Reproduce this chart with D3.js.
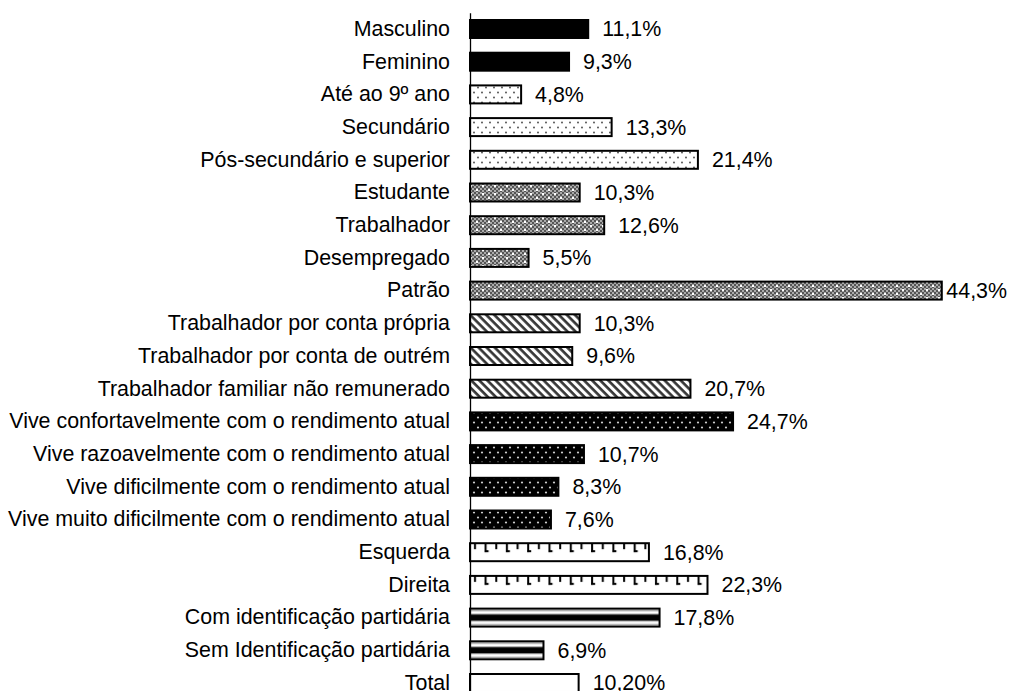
<!DOCTYPE html>
<meta charset="utf-8">
<style>
body { margin: 0; background: #fff; }
text { font-family: "Liberation Sans", Arial, sans-serif; font-size: 21.4px; fill: #000; }
</style>
<body>
<svg width="1011" height="691"></svg>
</body>
<script src="https://d3js.org/d3.v7.min.js"></script>
<script>

var categories = [
  "Masculino", "Feminino",
  "Até ao 9º ano", "Secundário", "Pós-secundário e superior",
  "Estudante", "Trabalhador", "Desempregado", "Patrão",
  "Trabalhador por conta própria", "Trabalhador por conta de outrém", "Trabalhador familiar não remunerado",
  "Vive confortavelmente com o rendimento atual", "Vive razoavelmente com o rendimento atual",
  "Vive dificilmente com o rendimento atual", "Vive muito dificilmente com o rendimento atual",
  "Esquerda", "Direita",
  "Com identificação partidária", "Sem Identificação partidária",
  "Total"
];

var values = [11.1, 9.3, 4.8, 13.3, 21.4, 10.3, 12.6, 5.5, 44.3, 10.3, 9.6, 20.7,
              24.7, 10.7, 8.3, 7.6, 16.8, 22.3, 17.8, 6.9, 10.2];

var valueLabels = ["11,1%", "9,3%", "4,8%", "13,3%", "21,4%", "10,3%", "12,6%", "5,5%", "44,3%",
                   "10,3%", "9,6%", "20,7%", "24,7%", "10,7%", "8,3%", "7,6%", "16,8%", "22,3%",
                   "17,8%", "6,9%", "10,20%"];

var groups = ["sexo", "sexo",
  "escolaridade", "escolaridade", "escolaridade",
  "condicao", "condicao", "condicao", "condicao",
  "profissao", "profissao", "profissao",
  "rendimento", "rendimento", "rendimento", "rendimento",
  "ideologia", "ideologia",
  "partido", "partido",
  "total"];

var svg = d3.select("svg"),
    width = +svg.attr("width"),
    height = +svg.attr("height");

var x = d3.scaleLinear().domain([0, 50]).range([470, 470 + 50 * 10.65]);

var y = d3.scaleBand()
    .domain(categories)
    .range([12.65, 12.65 + 21 * 32.7])
    .paddingInner(0.45)
    .paddingOuter(0.225);

var defs = svg.append("defs");

// white with dark dots
var pDots = defs.append("pattern").attr("id", "p-dots")
    .attr("patternUnits", "userSpaceOnUse").attr("width", 8).attr("height", 10);
pDots.append("rect").attr("width", 8).attr("height", 10).attr("fill", "#fff");
pDots.append("circle").attr("cx", 2).attr("cy", 2.5).attr("r", 0.9).attr("fill", "#444");
pDots.append("circle").attr("cx", 6).attr("cy", 7.5).attr("r", 0.9).attr("fill", "#444");

// grey checker with white spots
var pGrid = defs.append("pattern").attr("id", "p-grid")
    .attr("patternUnits", "userSpaceOnUse").attr("width", 12).attr("height", 8);
pGrid.append("rect").attr("width", 12).attr("height", 8).attr("fill", "#555");
for (var i = 0; i < 6; i++) {
  for (var j = 0; j < 4; j++) {
    if ((i + j) % 2 == 0) {
      pGrid.append("rect").attr("x", i * 2).attr("y", j * 2).attr("width", 2).attr("height", 2).attr("fill", "#aaa");
    }
  }
}
pGrid.append("rect").attr("x", 2).attr("y", 1).attr("width", 2).attr("height", 2).attr("fill", "#fff");
pGrid.append("rect").attr("x", 8).attr("y", 5).attr("width", 2).attr("height", 2).attr("fill", "#fff");

// downward diagonal
var pDiag = defs.append("pattern").attr("id", "p-diag")
    .attr("patternUnits", "userSpaceOnUse").attr("width", 5.7).attr("height", 10)
    .attr("patternTransform", "rotate(-45)");
pDiag.append("rect").attr("width", 5.7).attr("height", 10).attr("fill", "#fff");
pDiag.append("line").attr("x1", 1.5).attr("x2", 1.5).attr("y1", 0).attr("y2", 10)
    .attr("stroke", "#333").attr("stroke-width", 2.6);

// black with white dots
var pInv = defs.append("pattern").attr("id", "p-inv")
    .attr("patternUnits", "userSpaceOnUse").attr("width", 8).attr("height", 10);
pInv.append("rect").attr("width", 8).attr("height", 10).attr("fill", "#000");
pInv.append("circle").attr("cx", 2).attr("cy", 2.5).attr("r", 1.1).attr("fill", "#ccc");
pInv.append("circle").attr("cx", 6).attr("cy", 7.5).attr("r", 1.1).attr("fill", "#ccc");

// hanging ticks, aligned to bar tops
var pTicks = defs.append("pattern").attr("id", "p-ticks")
    .attr("patternUnits", "userSpaceOnUse")
    .attr("x", 470).attr("y", y("Esquerda"))
    .attr("width", 21.3).attr("height", y.step());
pTicks.append("rect").attr("width", 21.3).attr("height", y.step()).attr("fill", "#fff");
pTicks.append("rect").attr("x", 4).attr("y", 0).attr("width", 2).attr("height", 6).attr("fill", "#000");
pTicks.append("rect").attr("x", 14.6).attr("y", 0).attr("width", 2).attr("height", 9).attr("fill", "#000");
pTicks.append("rect").attr("x", 14.6).attr("y", 7).attr("width", 4).attr("height", 2).attr("fill", "#000");

// horizontal stripes, aligned to bar tops
var pStripes = defs.append("pattern").attr("id", "p-stripes")
    .attr("patternUnits", "userSpaceOnUse")
    .attr("x", 0).attr("y", y("Com identificação partidária"))
    .attr("width", 10).attr("height", y.step());
pStripes.append("rect").attr("width", 10).attr("height", y.step()).attr("fill", "#fff");
pStripes.append("rect").attr("y", 1).attr("width", 10).attr("height", 1.5).attr("fill", "#999");
pStripes.append("rect").attr("y", 6).attr("width", 10).attr("height", 6).attr("fill", "#000");
pStripes.append("rect").attr("y", 5).attr("width", 10).attr("height", 1).attr("fill", "#999");
pStripes.append("rect").attr("y", 12).attr("width", 10).attr("height", 1).attr("fill", "#999");
pStripes.append("rect").attr("y", 15.5).attr("width", 10).attr("height", 1.5).attr("fill", "#999");

var fillFor = {
  sexo: "#000",
  escolaridade: "url(#p-dots)",
  condicao: "url(#p-grid)",
  profissao: "url(#p-diag)",
  rendimento: "url(#p-inv)",
  ideologia: "url(#p-ticks)",
  partido: "url(#p-stripes)",
  total: "#fff"
};

var data = categories.map(function(c, i) {
  return { cat: c, value: values[i], label: valueLabels[i], group: groups[i] };
});

svg.append("g")
    .attr("class", "bars")
  .selectAll("rect")
  .data(data)
  .enter().append("rect")
    .attr("x", x(0))
    .attr("y", function(d) { return y(d.cat); })
    .attr("width", function(d) { return x(d.value) - x(0); })
    .attr("height", y.bandwidth())
    .attr("fill", function(d) { return fillFor[d.group]; })
    .attr("stroke", "#000")
    .attr("stroke-width", 2);

var axis = svg.append("g")
    .attr("transform", "translate(" + x(0) + ",0)")
    .call(d3.axisLeft(y).tickSize(0).tickSizeOuter(0).tickPadding(20));
axis.select(".domain").attr("stroke", "#000").attr("stroke-width", 1.3);
axis.selectAll("text")
    .style("font-family", "'Liberation Sans', Arial, sans-serif")
    .style("font-size", "21.4px")
    .attr("fill", "#000");

svg.append("g")
    .attr("class", "labels")
  .selectAll("text")
  .data(data)
  .enter().append("text")
    .attr("y", function(d) { return y(d.cat) + y.bandwidth() / 2; })
    .attr("dy", "0.35em")
    .text(function(d) { return d.label; })
    .attr("x", function(d) {
      var w = this.getComputedTextLength();
      var px = x(d.value) + 14;
      if (px + w > width - 4) px = width - 4 - w;
      return px;
    });

</script>
</html>
